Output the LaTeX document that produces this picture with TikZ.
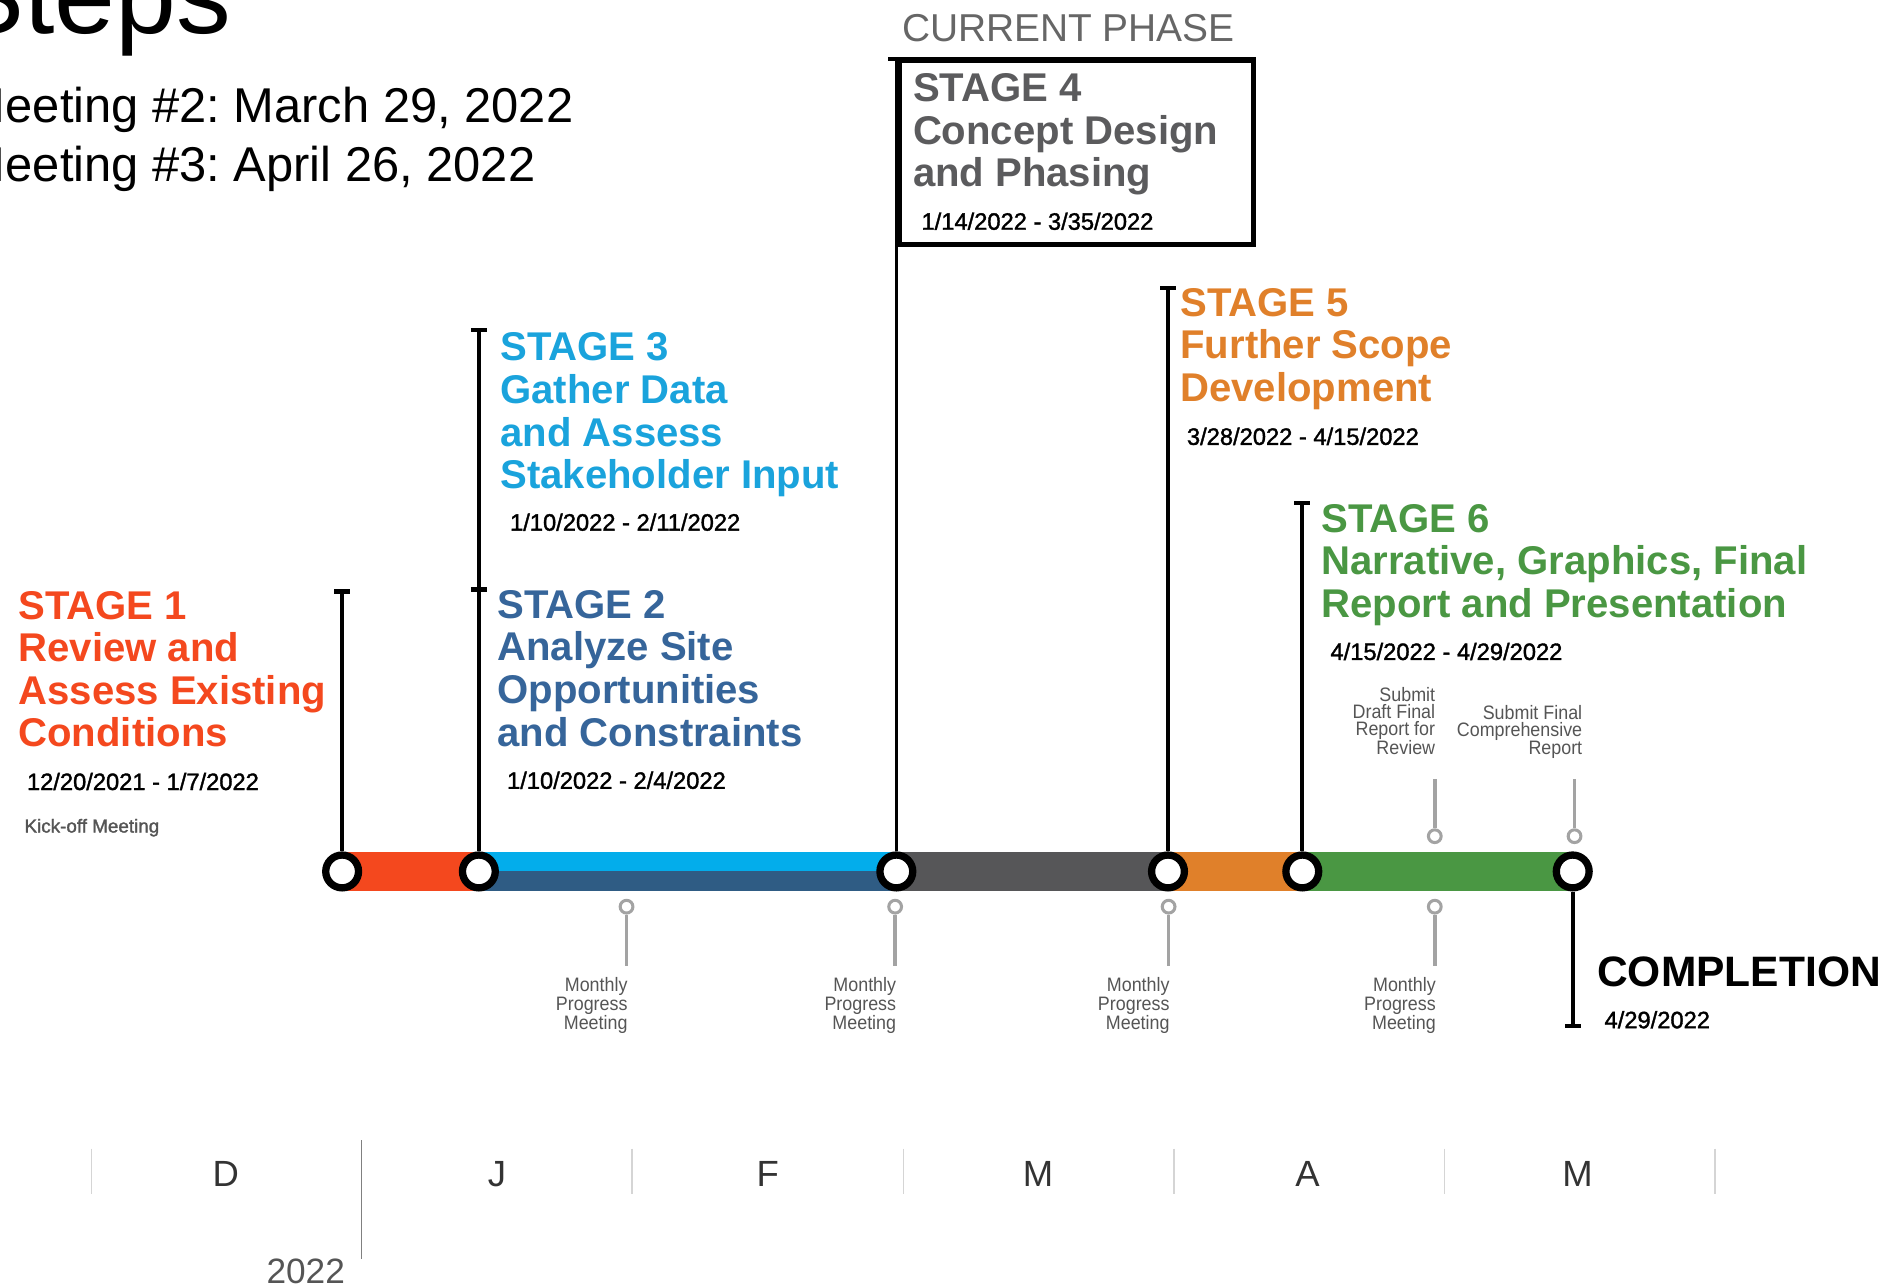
\documentclass[tikz,border=0pt]{standalone}
\usepackage{fontspec}
\setmainfont{Liberation Sans}
\newfontfamily\medfont[FakeBold=1.5]{Liberation Sans}
\newfontfamily\condfont[FakeStretch=0.92]{Liberation Sans}
\usetikzlibrary{arrows.meta}
\definecolor{sred}{HTML}{F4481E}
\definecolor{sdblue}{HTML}{36659A}
\definecolor{slblue}{HTML}{1AA3DC}
\definecolor{sgray}{HTML}{5B5B5D}
\definecolor{sorange}{HTML}{E0802A}
\definecolor{sgreen}{HTML}{4A9743}
\definecolor{barlblue}{HTML}{03ADEB}
\definecolor{bardblue}{HTML}{2F5C84}
\definecolor{bargray}{HTML}{565658}
\definecolor{mgray}{HTML}{A3A3A3}
\definecolor{txtgray}{HTML}{555555}
\definecolor{curgray}{HTML}{666666}
\definecolor{sepgray}{HTML}{D5D5D5}
\pgfdeclarelayer{background}
\pgfsetlayers{background,main}
\tikzset{
  bigc/.style={circle, draw=black, line width=6pt, fill=white, minimum size=27pt, inner sep=0pt},
  ms/.style={circle, draw=mgray, line width=2.5pt, fill=white, minimum size=10.5pt, inner sep=0pt},
  msline/.style={draw=mgray, line width=3pt},
  stemline/.style={draw=black, line width=3pt, -{Bar[width=13pt,line width=3.5pt]}},
  stagetxt/.style={anchor=base west, inner sep=0pt, align=left, font=\bfseries\fontsize{33}{35}\selectfont},
  datetxt/.style={anchor=base west, inner sep=0pt, text=black, font=\medfont\fontsize{19.5}{21}\selectfont},
  smalltxt/.style={anchor=base east, inner sep=0pt, align=right, text=txtgray, font=\condfont\fontsize{16}{14}\selectfont},
  month/.style={anchor=base, inner sep=0pt, text=black!80, font=\fontsize{30}{32}\selectfont},
  barseg/.style={line width=32pt},
  halfseg/.style={line width=16pt}
}
\begin{document}
\frenchspacing
\begin{tikzpicture}[x=1pt,y=-1pt]
\useasboundingbox (0,0) rectangle (1560,1058);

% title and meetings
\node[anchor=base west, inner sep=0pt, font=\fontsize{90}{94}\selectfont] (title) at (-40,27.5) {Steps};
\node[anchor=base west, inner sep=0pt, align=left, font=\fontsize{40.2}{48.5}\selectfont] (meet) at (-29,149.5) {Meeting \#2: March 29, 2022\\Meeting \#3: April 26, 2022};
\node[anchor=base west, inner sep=0pt, text=curgray, font=\fontsize{32}{34}\selectfont] (cur) at (742,34.3) {CURRENT PHASE};

% main circles
\node[bigc] (c1) at (281.5,717) {};
\node[bigc] (c2) at (394,717) {};
\node[bigc] (c3) at (737.5,717) {};
\node[bigc] (c4) at (961,717) {};
\node[bigc] (c5) at (1071.5,717) {};
\node[bigc] (c6) at (1294,717) {};

% bar
\begin{pgfonlayer}{background}
\draw[barseg, sred] (c1.center) -- (c2.center);
\draw[halfseg, barlblue] ([yshift=8pt]c2.center) -- ([yshift=8pt]c3.center);
\draw[halfseg, bardblue] ([yshift=-8pt]c2.center) -- ([yshift=-8pt]c3.center);
\draw[barseg, bargray] (c3.center) -- (c4.center);
\draw[barseg, sorange] (c4.center) -- (c5.center);
\draw[barseg, sgreen] (c5.center) -- (c6.center);
\end{pgfonlayer}

% stems
\coordinate (t1) at (281.5,485);
\coordinate (t2) at (394,270);
\coordinate (t2m) at (394,485);
\coordinate (t4) at (737.5,47);
\coordinate (t5) at (961,235);
\coordinate (t6) at (1071.5,412);
\coordinate (tc) at (1294,846);
\draw[stemline] (c1) -- (t1);
\draw[stemline] (c2) -- (t2);
\draw[line width=3.5pt] ([xshift=-6.5pt]t2m) -- ([xshift=6.5pt]t2m);
\draw[stemline] (c3) -- (t4);
\draw[stemline] (c4) -- (t5);
\draw[stemline] (c5) -- (t6);
\draw[stemline] (c6) -- (tc);

% stage 4 box
\node[draw=black, line width=4.5pt, anchor=north west, minimum width=291pt, minimum height=152pt, inner sep=0pt] (box4) at (738,47) {};

% milestone markers
\node[ms] (g1) at (515.5,746) {};
\node[ms] (g2) at (736.5,746) {};
\node[ms] (g3) at (961.5,746) {};
\node[ms] (g4) at (1180.5,746) {};
\node[ms] (g5) at (1180.5,688) {};
\node[ms] (g6) at (1295.5,688) {};
\coordinate (g1e) at (515.5,795);
\coordinate (g2e) at (736.5,795);
\coordinate (g3e) at (961.5,795);
\coordinate (g4e) at (1180.5,795);
\coordinate (g5e) at (1180.5,641);
\coordinate (g6e) at (1295.5,641);
\draw[msline] (g1) -- (g1e);
\draw[msline] (g2) -- (g2e);
\draw[msline] (g3) -- (g3e);
\draw[msline] (g4) -- (g4e);
\draw[msline] (g5) -- (g5e);
\draw[msline] (g6) -- (g6e);

% stage texts (anchor = baseline of last line)
\node[stagetxt, text=sred] (s1) at (15,614.5) {STAGE 1\\Review and\\Assess Existing\\Conditions};
\node[datetxt] (d1) at (22,650) {12/20/2021 - 1/7/2022};
\node[anchor=base west, inner sep=0pt, text=txtgray, font=\medfont\fontsize{15.5}{17}\selectfont] (k1) at (20,685) {Kick-off Meeting};

\node[stagetxt, text=slblue] (s3) at (411.5,402) {STAGE 3\\Gather Data\\and Assess\\Stakeholder Input};
\node[datetxt] (d3) at (419.5,436.6) {1/10/2022 - 2/11/2022};

\node[stagetxt, text=sdblue] (s2) at (409,613.8) {STAGE 2\\Analyze Site\\Opportunities\\and Constraints};
\node[datetxt] (d2) at (417,649) {1/10/2022 - 2/4/2022};

\node[stagetxt, text=sgray] (s4) at (751,153.6) {STAGE 4\\Concept Design\\and Phasing};
\node[datetxt] (d4) at (758,189) {1/14/2022 - 3/35/2022};

\node[stagetxt, text=sorange] (s5) at (971,330) {STAGE 5\\Further Scope\\Development};
\node[datetxt] (d5) at (976.4,366) {3/28/2022 - 4/15/2022};

\node[stagetxt, text=sgreen] (s6) at (1087,508) {STAGE 6\\Narrative, Graphics, Final\\Report and Presentation};
\node[datetxt] (d6) at (1094.5,543) {4/15/2022 - 4/29/2022};

% small labels (anchor = baseline of last line)
\node[smalltxt] (sub1) at (1181,621) {Submit\\Draft Final\\Report for\\Review};
\node[smalltxt] (sub2) at (1302,621) {Submit Final\\Comprehensive\\Report};
\node[smalltxt] (mp1) at (516.5,847) {Monthly\\Progress\\Meeting};
\node[smalltxt] (mp2) at (737.5,847) {Monthly\\Progress\\Meeting};
\node[smalltxt] (mp3) at (962.5,847) {Monthly\\Progress\\Meeting};
\node[smalltxt] (mp4) at (1181.5,847) {Monthly\\Progress\\Meeting};

% completion
\node[anchor=base west, inner sep=0pt, text=black, font=\bfseries\fontsize{35}{37}\selectfont] (comp) at (1314,812) {COMPLETION};
\node[datetxt] (dc) at (1320,846) {4/29/2022};

% months
\foreach \x in {75,520,743.5,966,1188.5,1411} \draw[sepgray, line width=1pt] (\x,945) -- (\x,982);
\draw[black!50, line width=1.2pt] (297.5,938) -- (297.5,1036);
\node[month] (m1) at (185.75,976) {D};
\node[month] (m2) at (409,976) {J};
\node[month] (m3) at (631.75,976) {F};
\node[month] (m4) at (854,976) {M};
\node[month] (m5) at (1075.75,976) {A};
\node[month] (m6) at (1298,976) {M};
\node[anchor=base east, inner sep=0pt, text=txtgray, font=\fontsize{29}{30}\selectfont] (yr) at (284,1056) {2022};
\end{tikzpicture}
\end{document}
